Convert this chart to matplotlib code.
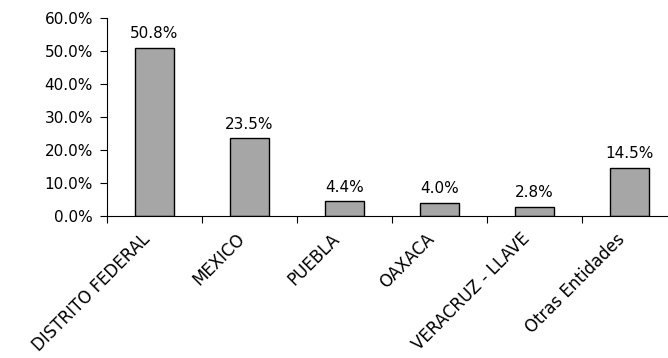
import matplotlib.pyplot as plt
import matplotlib.transforms as mtransforms
from matplotlib.ticker import FixedLocator

# Share per entity
entidades = ["DISTRITO FEDERAL", "MEXICO", "PUEBLA", "OAXACA",
             "VERACRUZ - LLAVE", "Otras Entidades"]
porcentajes = [50.8, 23.5, 4.4, 4.0, 2.8, 14.5]
y_ticks = [0, 10, 20, 30, 40, 50, 60]

fig = plt.figure(figsize=(6.68, 3.58), dpi=100)
ax = fig.add_axes([0.160, 0.3966, 0.8535, 0.5531])

centros = [i + 0.5 for i in range(len(entidades))]
ax.bar(centros, porcentajes, width=0.41, color="#a6a6a6",
       edgecolor="black", linewidth=1.0)

for x, v in zip(centros, porcentajes):
    ax.annotate(f"{v:.1f}%", (x, v), xytext=(0, 5), textcoords="offset points",
                ha="center", va="bottom", fontsize=11)

ax.set_xlim(0, len(entidades))
ax.set_ylim(0, 60)
ax.set_yticks(y_ticks)
ax.set_yticklabels([f"{t:.1f}%" for t in y_ticks], fontsize=11)

# major ticks between categories, labels on minor ticks at centres
ax.xaxis.set_major_locator(FixedLocator(range(len(entidades) + 1)))
ax.set_xticklabels([])
ax.set_xticks(centros, minor=True)
ax.set_xticklabels(entidades, minor=True, rotation=45, ha="right",
                   rotation_mode="anchor", fontsize=12)
ax.tick_params(axis="x", which="minor", length=0, pad=10)
ax.tick_params(axis="x", which="major", length=5, direction="out")
ax.tick_params(axis="y", length=5, direction="out", pad=5)

desplaz = mtransforms.ScaledTranslation(-10 / 72, 0, fig.dpi_scale_trans)
for lbl in ax.get_xticklabels(minor=True):
    lbl.set_transform(lbl.get_transform() + desplaz)

for s in ["top", "right"]:
    ax.spines[s].set_visible(False)

plt.savefig("out.png", dpi=100)
